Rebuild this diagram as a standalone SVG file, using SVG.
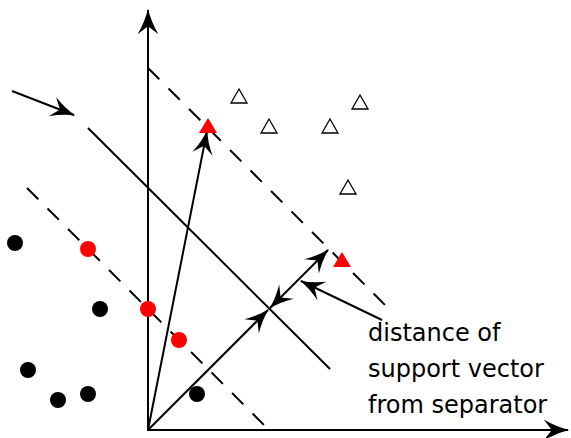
<svg xmlns="http://www.w3.org/2000/svg" width="571" height="438" viewBox="0 0 571 438">
<style>
.ln{stroke:#000;stroke-width:2;fill:none}
.ds{stroke:#000;stroke-width:2;fill:none;stroke-dasharray:16 13}
.bk{fill:#000}
.rd{fill:#f00}
.op{fill:#fff;stroke:#000;stroke-width:1.3}
.lbl{font-family:"DejaVu Sans",sans-serif;font-size:24px;fill:#000}
</style>
<defs>
<marker id="ah" markerUnits="userSpaceOnUse" markerWidth="30" markerHeight="30" refX="0" refY="0" viewBox="-20 -10 22 20" orient="auto-start-reverse">
<path d="M1,0 Q-8,-2 -17,-7.5 L-11,0 L-17,7.5 Q-8,2 1,0 Z" fill="#000"/>
</marker>
<marker id="big" markerUnits="userSpaceOnUse" markerWidth="30" markerHeight="30" refX="0" refY="0" viewBox="-24 -12 26 24" orient="auto">
<path d="M1,0 Q-10,-2.5 -21,-9 L-14,0 L-21,9 Q-10,2.5 1,0 Z" fill="#000"/>
</marker>
</defs>
<g id="axes">
<line class="ln" x1="148" y1="431" x2="148" y2="10" marker-end="url(#big)"/>
<line class="ln" x1="147" y1="430" x2="568" y2="430" marker-end="url(#big)"/>
</g>
<g id="lines">
<line id="separator" class="ln" x1="88" y1="128" x2="330" y2="369"/>
<line id="margin-upper" class="ds" x1="148" y1="68" x2="390" y2="310"/>
<line id="margin-lower" class="ds" x1="27" y1="188" x2="269" y2="430"/>
</g>
<g id="connectors">
<line class="ln" x1="12" y1="91" x2="74" y2="115" marker-end="url(#ah)"/>
<line class="ln" x1="148" y1="430" x2="207" y2="131" marker-end="url(#ah)"/>
<line class="ln" x1="148" y1="430" x2="268" y2="310" marker-end="url(#ah)"/>
<line class="ln" x1="270" y1="308" x2="328" y2="250" marker-start="url(#ah)" marker-end="url(#ah)"/>
<line class="ln" x1="382" y1="320" x2="301" y2="281" marker-end="url(#ah)"/>
</g>
<g id="negatives">
<circle class="bk" cx="15" cy="243" r="8"/>
<circle class="bk" cx="100" cy="309" r="8"/>
<circle class="bk" cx="28" cy="370" r="8"/>
<circle class="bk" cx="58" cy="400" r="8"/>
<circle class="bk" cx="88" cy="394" r="8"/>
<circle class="bk" cx="197" cy="394" r="8"/>
<circle class="rd" cx="88" cy="249" r="8"/>
<circle class="rd" cx="148" cy="309" r="8"/>
<circle class="rd" cx="179" cy="340" r="8"/>
</g>
<g id="positives">
<polygon class="rd" points="208,118 199,133 217,133"/>
<polygon class="rd" points="342,252 333,267 351,267"/>
<polygon class="op" points="239,89 231,103 247,103"/>
<polygon class="op" points="269,119 261,133 277,133"/>
<polygon class="op" points="360,95 352,109 368,109"/>
<polygon class="op" points="330,119 322,133 338,133"/>
<polygon class="op" points="348,180 340,194 356,194"/>
</g>
<g id="label">
<text class="lbl" x="368" y="341">distance of</text>
<text class="lbl" x="368" y="377">support vector</text>
<text class="lbl" x="368" y="413">from separator</text>
</g>
</svg>
